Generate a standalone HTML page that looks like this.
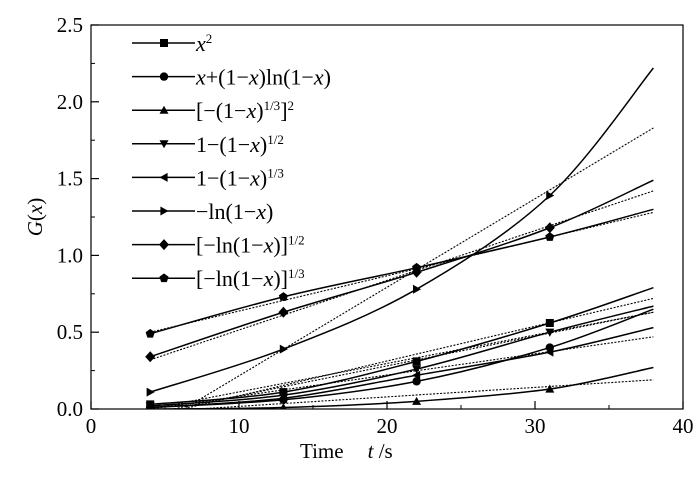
<!DOCTYPE html>
<html><head><meta charset="utf-8"><style>
body{margin:0;background:#fff}
svg text{font-family:"Liberation Serif",serif;fill:#000}
</style></head><body>
<svg id="c" width="700" height="472"></svg>
<script>
const times=[4,13,22,31,38];
const markerTimes=[4,13,22,31];
const labels=["x²","x+(1−x)ln(1−x)","[−(1−x)^1/3]^2","1−(1−x)^1/2","1−(1−x)^1/3","−ln(1−x)","[−ln(1−x)]^1/2","[−ln(1−x)]^1/3"];
const sX2=[0.03,0.11,0.31,0.56,0.79];
const sCirc=[0.01,0.06,0.18,0.40,0.65];
const sTri=[0.0,0.01,0.05,0.13,0.27];
const sDown=[0.02,0.09,0.26,0.50,0.67];
const sLeft=[0.01,0.07,0.22,0.37,0.53];
const sRight=[0.11,0.39,0.78,1.39,2.22];
const sDiam=[0.34,0.63,0.89,1.18,1.49];
const sPent=[0.49,0.73,0.92,1.12,1.30];
const fitStart=[-0.05,-0.03,-0.02,0.0,0.0,-0.13,0.32,0.50];
const fitEnd=[0.72,0.63,0.19,0.63,0.47,1.83,1.42,1.28];
const xTicks=[0,10,20,30,40];
const yTicks=[0.0,0.5,1.0,1.5,2.0,2.5];
const series=[sX2,sCirc,sTri,sDown,sLeft,sRight,sDiam,sPent];
const shapes=["square","circle","up","down","left","right","diamond","pent"];
const NS="http://www.w3.org/2000/svg";
const svg=document.getElementById('c');
const L=91,R=683,T=25,B=409;
const X=v=>L+(v-0)/40*(R-L), Y=v=>B-(v/2.5)*(B-T);
function mk(t,a,p){const e=document.createElementNS(NS,t);for(const k in a)e.setAttribute(k,a[k]);(p||svg).appendChild(e);return e;}
const defs=mk('defs',{});const cp=mk('clipPath',{id:'clip'},defs);mk('rect',{x:L,y:T,width:R-L,height:B-T},cp);
const plot=mk('g',{'clip-path':'url(#clip)'});

function marker(shape,cx,cy,g){let e;const s=4.5;
 if(shape=="square")e=mk('rect',{x:cx-4,y:cy-4,width:8,height:8},g);
 else if(shape=="circle")e=mk('circle',{cx,cy,r:4.2},g);
 else{let pts;
  if(shape=="up")pts=[[0,-s],[s,s*0.8],[-s,s*0.8]];
  if(shape=="down")pts=[[0,s],[s,-s*0.8],[-s,-s*0.8]];
  if(shape=="left")pts=[[-s,0],[s*0.8,-s],[s*0.8,s]];
  if(shape=="right")pts=[[s,0],[-s*0.8,-s],[-s*0.8,s]];
  if(shape=="diamond")pts=[[0,-5.5],[5,0],[0,5.5],[-5,0]];
  if(shape=="pent")pts=[0,1,2,3,4].map(i=>[4.8*Math.sin(i*2*Math.PI/5),-4.8*Math.cos(i*2*Math.PI/5)]);
  e=mk('polygon',{points:pts.map(p=>(cx+p[0])+','+(cy+p[1])).join(' ')},g);}
 e.setAttribute('fill','#000');return e;}
function smooth(pts){let d='M'+pts[0][0]+','+pts[0][1];
 for(let i=0;i<pts.length-1;i++){const p0=pts[i-1]||pts[i],p1=pts[i],p2=pts[i+1],p3=pts[i+2]||p2;
  d+=' C'+(p1[0]+(p2[0]-p0[0])/6)+','+(p1[1]+(p2[1]-p0[1])/6)+' '+(p2[0]-(p3[0]-p1[0])/6)+','+(p2[1]-(p3[1]-p1[1])/6)+' '+p2[0]+','+p2[1];}
 return d;}
series.forEach((s,i)=>{
 const g=mk('g',{},plot);
 
 
 const f=mk('line',{x1:X(4),y1:Y(fitStart[i]),x2:X(38),y2:Y(fitEnd[i]),stroke:'#000','stroke-width':1.1,'stroke-dasharray':'2,1.5'},g);
 
 
 const p=mk('path',{d:smooth(times.map((t,j)=>[X(t),Y(s[j])])),fill:'none',stroke:'#000','stroke-width':1.5},g);
 
 
 markerTimes.forEach((t,j)=>{const m=marker(shapes[i],X(t),Y(s[j]),g);
  
  });
});
const frame=mk('rect',{x:L,y:T,width:R-L,height:B-T,fill:'none',stroke:'#000','stroke-width':1.2});

xTicks.forEach((v,i)=>{mk('line',{x1:X(v),y1:B,x2:X(v),y2:B-8,stroke:'#000','stroke-width':1.2});
 if(i<xTicks.length-1)mk('line',{x1:X(v+5),y1:B,x2:X(v+5),y2:B-4,stroke:'#000'});
 const t=mk('text',{x:X(v),y:B+24,'text-anchor':'middle','font-size':21});t.textContent=v;
 });
yTicks.forEach((v,i)=>{mk('line',{x1:L,y1:Y(v),x2:L+8,y2:Y(v),stroke:'#000','stroke-width':1.2});
 if(i<yTicks.length-1)mk('line',{x1:L,y1:Y(v+0.25),x2:L+4,y2:Y(v+0.25),stroke:'#000'});
 const t=mk('text',{x:L-8,y:Y(v)+7,'text-anchor':'end','font-size':21});t.textContent=v.toFixed(1);
 });
const xt=mk('text',{x:300,y:458,'font-size':21});xt.innerHTML='Time<tspan dx="24" font-style="italic">t</tspan> /s';

const yt=mk('text',{transform:'translate(42,217) rotate(-90)','text-anchor':'middle','font-size':21});
yt.innerHTML='<tspan font-style="italic">G</tspan>(<tspan font-style="italic">x</tspan>)';

const legHTML=['<tspan font-style="italic">x</tspan><tspan font-size="13" dy="-8">2</tspan>',
'<tspan font-style="italic">x</tspan>+(1−<tspan font-style="italic">x</tspan>)ln(1−<tspan font-style="italic">x</tspan>)',
'[−(1−<tspan font-style="italic">x</tspan>)<tspan font-size="13" dy="-8">1/3</tspan><tspan dy="8">]</tspan><tspan font-size="13" dy="-8">2</tspan>',
'1−(1−<tspan font-style="italic">x</tspan>)<tspan font-size="13" dy="-8">1/2</tspan>',
'1−(1−<tspan font-style="italic">x</tspan>)<tspan font-size="13" dy="-8">1/3</tspan>',
'−ln(1−<tspan font-style="italic">x</tspan>)',
'[−ln(1−<tspan font-style="italic">x</tspan>)]<tspan font-size="13" dy="-8">1/2</tspan>',
'[−ln(1−<tspan font-style="italic">x</tspan>)]<tspan font-size="13" dy="-8">1/3</tspan>'];
const leg=mk('g',{});
labels.forEach((lab,i)=>{const y=43+i*33.6;
 const g=mk('g',{},leg);
 mk('line',{x1:132,y1:y,x2:195,y2:y,stroke:'#000','stroke-width':1.5},g);
 const m=marker(shapes[i],164,y,g);
 const t=mk('text',{x:196,y:y+8,'font-size':22},g);t.innerHTML=legHTML[i];t.setAttribute('aria-label',lab);});
</script>
</body></html>
